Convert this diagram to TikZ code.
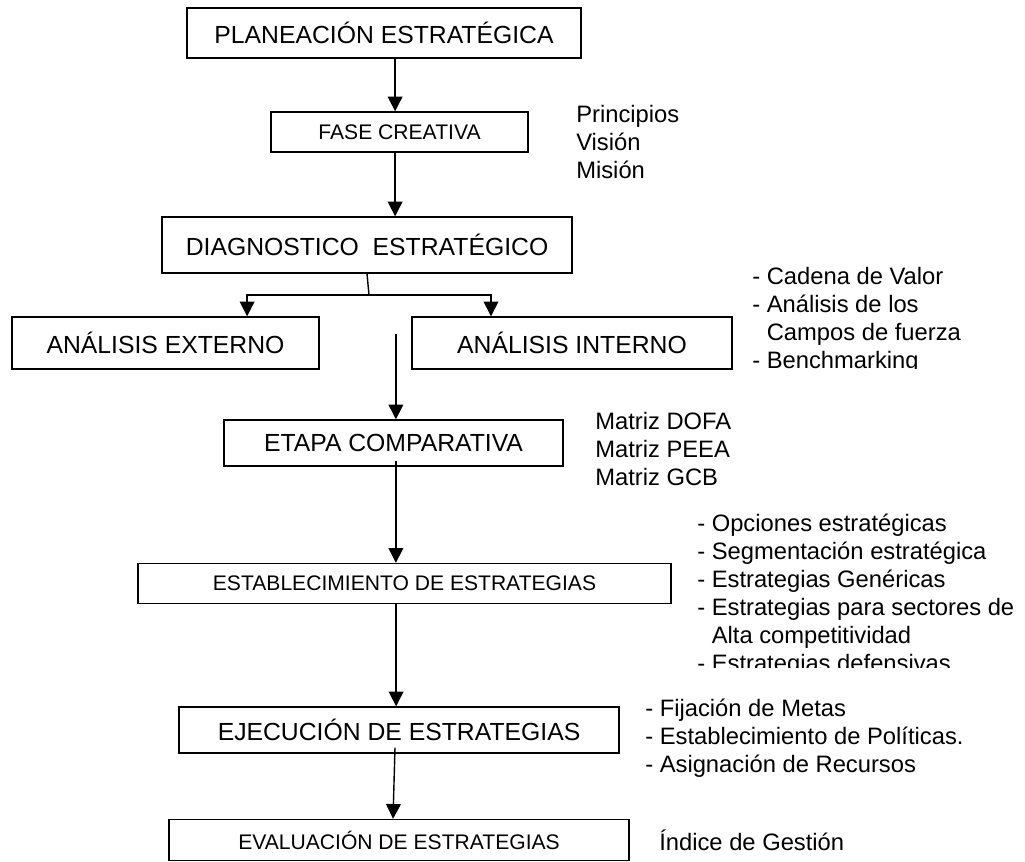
\documentclass[tikz,border=0pt]{standalone}
\usepackage{fontspec}
\setmainfont{Liberation Sans}
\usetikzlibrary{arrows.meta}

\tikzset{
  bigbox/.style={draw,line width=1pt,inner sep=0pt,font=\fontsize{17.6}{20}\selectfont},
  smallbox/.style={draw,line width=1pt,inner sep=0pt,font=\fontsize{15}{18}\selectfont},
  sidetext/.style={anchor=base west,align=left,inner sep=0pt,font=\fontsize{16.9}{19.8}\selectfont},
  arr/.style={line width=1pt,-{Triangle[length=10.5pt,width=10.5pt]}}
}

\begin{document}
\begin{tikzpicture}
        \useasboundingbox (0,0) rectangle (25.625,-21.525);

        \node (plan)  at (9.6,-0.825)     [bigbox,minimum width=9.85cm,minimum height=1.25cm] {PLANEACIÓN ESTRATÉGICA};
        \node (fase)  at (9.9875,-3.3)    [smallbox,minimum width=6.425cm,minimum height=1cm] {FASE CREATIVA};
        \node (diag)  at (9.175,-6.125)   [bigbox,minimum width=10.25cm,minimum height=1.4cm] {DIAGNOSTICO\ \ ESTRATÉGICO};
        \node (ext)   at (4.1375,-8.575)  [bigbox,minimum width=7.675cm,minimum height=1.3cm] {ANÁLISIS EXTERNO};
        \node (int)   at (14.3,-8.575)    [bigbox,minimum width=8cm,minimum height=1.3cm] {ANÁLISIS INTERNO};
        \node (etapa) at (9.8375,-11.075) [bigbox,minimum width=8.475cm,minimum height=1.15cm] {ETAPA COMPARATIVA};
        \node (estab) at (10.1125,-14.5875) [smallbox,minimum width=13.325cm,minimum height=1cm] {ESTABLECIMIENTO DE ESTRATEGIAS};
        \node (ejec)  at (9.975,-18.25)   [bigbox,minimum width=11cm,minimum height=1.15cm] {EJECUCIÓN DE ESTRATEGIAS};
        \node (eval)  at (9.975,-21)      [smallbox,minimum width=11.5cm,minimum height=1.025cm] {EVALUACIÓN DE ESTRATEGIAS};

        % notes on the right (base = last line)
        \node (principios) at (14.4,-4.45) [sidetext] {Principios\\Visión\\Misión};
        \begin{scope}
          \clip (18,-6) rectangle (25.625,-9.21);
          \node (cadena) at (18.8,-9.2) [sidetext] {- Cadena de Valor\\- Análisis de los\\\phantom{- }Campos de fuerza\\- Benchmarking};
        \end{scope}
        \node (matriz) at (14.875,-12.125) [sidetext] {Matriz DOFA\\Matriz PEEA\\Matriz GCB};
        \begin{scope}
          \clip (17,-12.5) rectangle (25.625,-16.675);
          \node (opciones) at (17.425,-16.775) [sidetext] {- Opciones estratégicas\\- Segmentación estratégica\\- Estrategias Genéricas\\- Estrategias para sectores de\\\phantom{- }Alta competitividad\\- Estrategias defensivas};
        \end{scope}
        \node (fijacion) at (16.125,-19.3) [sidetext] {- Fijación de Metas\\- Establecimiento de Políticas.\\- Asignación de Recursos};
        \node (indice) at (16.475,-21.25) [sidetext] {Índice de Gestión};

        \draw[arr] ([xshift=-1.1mm]fase.north |- plan.south) -- ([xshift=-1.1mm]fase.north);
        \draw[arr] ([xshift=-1.1mm]fase.south) -- ([xshift=-1.1mm]fase.south |- diag.north);

        \coordinate (split) at (9.225,-7.375);
        \draw[line width=1pt] (diag.south) -- (split);
        \draw[arr] (split) -| ([xshift=2.04cm]ext.north);
        \draw[arr] (split) -| ([xshift=-2.025cm]int.north);

        \draw[arr] ([xshift=0.6mm]etapa.north) ++(0,2.125) -- ([xshift=0.6mm]etapa.north);
        \draw[arr] ([xshift=0.6mm,yshift=1.5mm]etapa.south) -- ([xshift=0.6mm]etapa.south |- estab.north);
        \draw[arr] ([xshift=-2.1mm]estab.south) -- ([xshift=-2.1mm]estab.south |- ejec.north);
        \draw[arr] ([xshift=-1mm,yshift=1.5mm]ejec.south) -- ([xshift=-1.5mm]eval.north);
\end{tikzpicture}
\end{document}
